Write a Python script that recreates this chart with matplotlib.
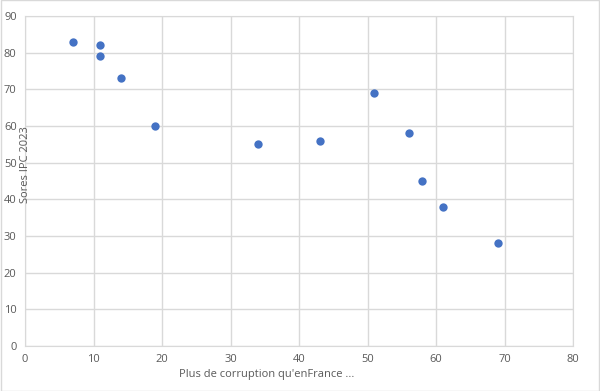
import matplotlib.pyplot as plt
from matplotlib.patches import Rectangle

# Données
x_corruption = [7, 11, 11, 14, 19, 34, 43, 51, 56, 58, 61, 69]
y_scores = [83, 82, 79, 73, 60, 55, 56, 69, 58, 45, 38, 28]
x_ticks = [0, 10, 20, 30, 40, 50, 60, 70, 80]
y_ticks = [0, 10, 20, 30, 40, 50, 60, 70, 80, 90]

plt.rcParams['font.family'] = ['Open Sans', 'DejaVu Sans']

fig = plt.figure(figsize=(6, 3.91), dpi=100)
ax = fig.add_axes([25 / 600, 45 / 391, 548 / 600, 330 / 391])

ax.scatter(x_corruption, y_scores, s=36, color='#4472C4', zorder=3, linewidths=0)

ax.set_xlim(0, 80)
ax.set_ylim(0, 90)
ax.set_xticks(x_ticks)
ax.set_yticks(y_ticks)
ax.grid(True, color='#d9d9d9', linewidth=1)
ax.set_axisbelow(True)
for s in ax.spines.values():
    s.set_color('#d9d9d9')
ax.tick_params(length=0, labelsize=8, colors='#595959', pad=6)

# titres des axes
fig.text(267 / 600, 1 - 375 / 391, "Plus de corruption qu'enFrance ...", ha='center', va='center',
         fontsize=8, color='#595959')
fig.text(26 / 600, 1 - 165 / 391, "Sores IPC 2023", ha='center', va='center', rotation=90,
         fontsize=8, color='#595959')

# bordure du graphique
fig.patches.append(Rectangle((0.001, 0.001), 0.998, 0.998, transform=fig.transFigure,
                             fill=False, edgecolor='#d9d9d9', linewidth=1))

fig.savefig('out.png', dpi=100)
